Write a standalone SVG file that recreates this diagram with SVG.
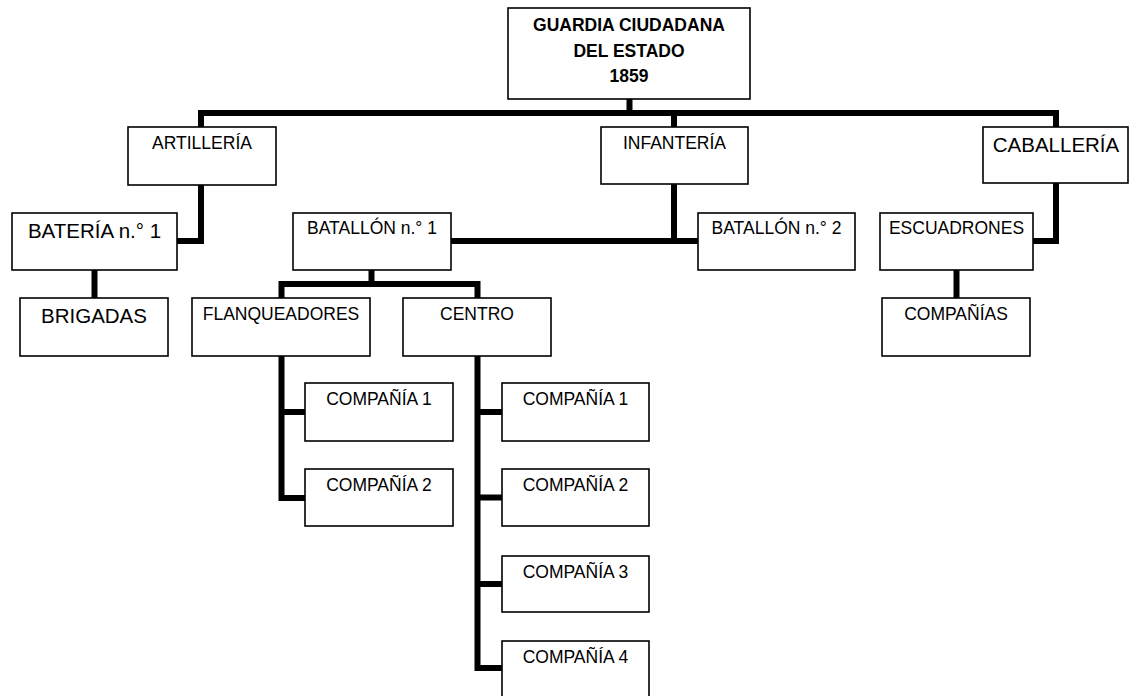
<svg xmlns="http://www.w3.org/2000/svg" width="1130" height="696" viewBox="0 0 1130 696">
<style>
.box{fill:#fff;stroke:#000;stroke-width:1.6}
.c{fill:none;stroke:#000;stroke-width:6;stroke-linejoin:miter;stroke-linecap:butt}
text{font-family:"Liberation Sans",Arial,sans-serif;fill:#000;text-anchor:middle}
.s{font-size:17.5px}
.l{font-size:20.5px}
.t{font-size:17.5px;font-weight:bold}
</style>
<rect width="1130" height="696" fill="#fff"/>
<g id="connectors">
<path class="c" d="M629.5 99 V113"/>
<path class="c" d="M201 127 V113 H1056 V127"/>
<path class="c" d="M674 113 V127"/>
<path class="c" d="M201 185 V241 H177"/>
<path class="c" d="M674 184 V241"/>
<path class="c" d="M451 241 H698"/>
<path class="c" d="M1056 183 V241 H1033"/>
<path class="c" d="M94.5 270 V298"/>
<path class="c" d="M956.5 270 V298"/>
<path class="c" d="M371.5 270 V284"/>
<path class="c" d="M281.5 298 V284 H477.5 V298"/>
<path class="c" d="M281.5 356 V498 H305"/>
<path class="c" d="M281.5 412 H305"/>
<path class="c" d="M477.5 356 V668 H502"/>
<path class="c" d="M477.5 412 H502"/>
<path class="c" d="M477.5 497.5 H502"/>
<path class="c" d="M477.5 584 H502"/>
</g>
<g id="guardia"><rect class="box" x="508" y="8" width="242" height="91"/>
<text class="t" x="629" y="31">GUARDIA CIUDADANA</text><text class="t" x="629" y="57">DEL ESTADO</text><text class="t" x="629" y="82">1859</text></g>
<g id="artilleria"><rect class="box" x="128" y="127" width="148" height="58"/><text class="s" x="202" y="149">ARTILLERÍA</text></g>
<g id="infanteria"><rect class="box" x="601" y="127" width="147" height="57"/><text class="s" x="674.5" y="149">INFANTERÍA</text></g>
<g id="caballeria"><rect class="box" x="983" y="127" width="145" height="56"/><text class="l" x="1056" y="152">CABALLERÍA</text></g>
<g id="bateria"><rect class="box" x="12" y="213" width="165" height="57"/><text class="l" x="94.5" y="238">BATERÍA n.° 1</text></g>
<g id="batallon1"><rect class="box" x="293" y="213" width="158" height="57"/><text class="s" x="372" y="234">BATALLÓN n.° 1</text></g>
<g id="batallon2"><rect class="box" x="698" y="213" width="157" height="57"/><text class="s" x="776.5" y="234">BATALLÓN n.° 2</text></g>
<g id="escuadrones"><rect class="box" x="880" y="213" width="153" height="57"/><text class="s" x="956.5" y="234">ESCUADRONES</text></g>
<g id="brigadas"><rect class="box" x="20" y="298" width="148" height="58"/><text class="l" x="94" y="323">BRIGADAS</text></g>
<g id="flanqueadores"><rect class="box" x="192" y="298" width="178" height="58"/><text class="s" x="281" y="320">FLANQUEADORES</text></g>
<g id="centro"><rect class="box" x="403" y="298" width="148" height="58"/><text class="s" x="477" y="320">CENTRO</text></g>
<g id="companias"><rect class="box" x="882" y="298" width="148" height="58"/><text class="s" x="956" y="320">COMPAÑÍAS</text></g>
<g id="flanq-comp1"><rect class="box" x="305" y="383" width="148" height="58"/><text class="s" x="379" y="405">COMPAÑÍA 1</text></g>
<g id="flanq-comp2"><rect class="box" x="305" y="469" width="148" height="57"/><text class="s" x="379" y="491">COMPAÑÍA 2</text></g>
<g id="centro-comp1"><rect class="box" x="502" y="383" width="147" height="58"/><text class="s" x="575.5" y="405">COMPAÑÍA 1</text></g>
<g id="centro-comp2"><rect class="box" x="502" y="469" width="147" height="57"/><text class="s" x="575.5" y="491">COMPAÑÍA 2</text></g>
<g id="centro-comp3"><rect class="box" x="502" y="556" width="147" height="56"/><text class="s" x="575.5" y="578">COMPAÑÍA 3</text></g>
<g id="centro-comp4"><rect class="box" x="502" y="641" width="147" height="58"/><text class="s" x="575.5" y="663">COMPAÑÍA 4</text></g>
</svg>
